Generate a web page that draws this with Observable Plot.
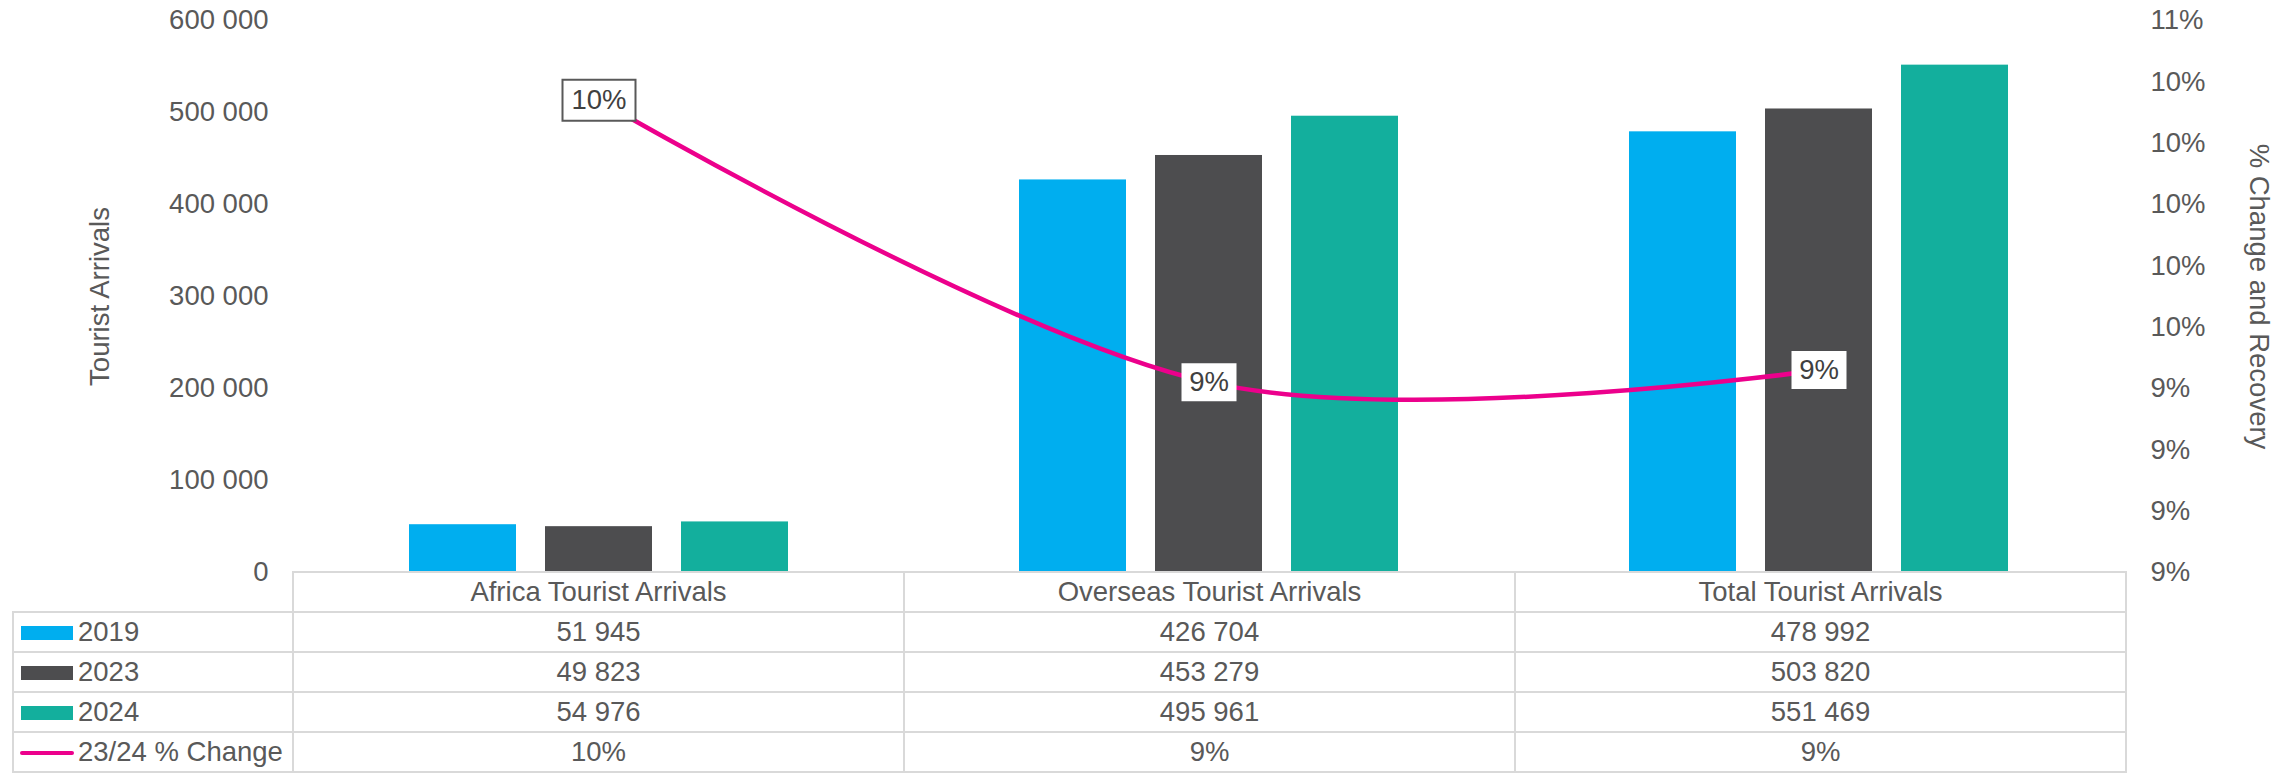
<!DOCTYPE html>
<html>
<head>
<meta charset="utf-8">
<script src="https://cdn.jsdelivr.net/npm/d3@7"></script>
<script src="https://cdn.jsdelivr.net/npm/@observablehq/plot@0.6"></script>
<style>
  html, body { margin: 0; padding: 0; background: #fff; }
  #wrap { position: relative; width: 2293px; height: 774px; overflow: hidden; background: #fff; }
  #chart { position: absolute; left: 0; top: 0; }
  #tbl { position: absolute; left: 12px; top: 571px; border-collapse: collapse; table-layout: fixed;
         width: 2113px; font-family: "Liberation Sans", Arial, sans-serif; font-size: 27.5px; color: #595959; }
  #tbl td { border: 2px solid #d9d9d9; height: 38px; padding: 0; text-align: center; vertical-align: middle; line-height: 1; white-space: nowrap; }
  #tbl td.blank { border-top: none; border-left: none; }
  #tbl td.leg { text-align: left; }
  .sw { display: inline-block; width: 52px; height: 14px; margin: 0 5px 0 7px; vertical-align: middle; position: relative; top: -1px; }
  .ln { display: inline-block; width: 54px; height: 4px; border-radius: 2px; margin: 0 4px 0 6px; vertical-align: middle; position: relative; top: -1px; }
</style>
</head>
<body>
<div id="wrap">
  <div id="chart"></div>
  <table id="tbl"></table>
</div>
<script>
// ---- data ----
const categories = ["Africa Tourist Arrivals", "Overseas Tourist Arrivals", "Total Tourist Arrivals"];
const years = ["2019", "2023", "2024"];
const arrivals2019 = [51945, 426704, 478992];
const arrivals2023 = [49823, 453279, 503820];
const arrivals2024 = [54976, 495961, 551469];
const changeName = "23/24 % Change";
const pctChange = [0.1034, 0.0942, 0.0946];
const pctLabels = ["10%", "9%", "9%"];
const leftTicks = [0, 100000, 200000, 300000, 400000, 500000, 600000];
const rightTicks = [0.088, 0.090, 0.092, 0.094, 0.096, 0.098, 0.100, 0.102, 0.104, 0.106];
const yearColors = ["#00AEEF", "#4D4D4F", "#13AF9D"];
const lineColor = "#EC008C";

const seriesValues = [arrivals2019, arrivals2023, arrivals2024];
const rows = [];
years.forEach((yr, i) => categories.forEach((c, j) => rows.push({year: yr, category: c, value: seriesValues[i][j]})));
const lineRows = categories.map((c, j) => ({category: c, pct: pctChange[j], label: pctLabels[j]}));

const fmt = d3.formatLocale({decimal: ".", thousands: " ", grouping: [3], currency: ["", ""]}).format(",");
const pctFmt = d3.format(".0%");

// secondary axis mapping onto the primary y scale
const yMax = 600000;
const pMin = rightTicks[0], pMax = rightTicks[rightTicks.length - 1];
const toY = p => (p - pMin) / (pMax - pMin) * yMax;
const fromY = v => pMin + v / yMax * (pMax - pMin);

const box = (w, h) => ({draw(ctx) { ctx.rect(-w / 2, -h / 2, w, h); }});
const offsets = [-136, 0, 136];
const font = "'Liberation Sans', Arial, sans-serif";

const chart = Plot.plot({
  width: 2293,
  height: 610,
  marginLeft: 292,
  marginRight: 169,
  marginTop: 20,
  marginBottom: 38,
  style: {fontFamily: font, fontSize: "27.5px", color: "#595959", background: "transparent", overflow: "visible"},
  x: {type: "band", domain: categories, paddingInner: 0.8246, paddingOuter: 0.4123, axis: null},
  y: {domain: [0, yMax], axis: null},
  marks: [
    ...years.map((yr, i) => Plot.barY(rows.filter(d => d.year === yr), {
      x: "category", y: "value", fill: yearColors[i], dx: offsets[i]
    })),
    Plot.line(lineRows, {x: "category", y: d => toY(d.pct), stroke: lineColor, strokeWidth: 4.5, curve: "cardinal"}),
    Plot.dot(lineRows.slice(0, 1), {x: "category", y: d => toY(d.pct), symbol: box(73, 41), fill: "white", stroke: "#595959", strokeWidth: 2}),
    Plot.dot(lineRows.slice(1), {x: "category", y: d => toY(d.pct), symbol: box(55, 38), fill: "white", stroke: "none"}),
    Plot.text(lineRows, {x: "category", y: d => toY(d.pct), text: "label", fill: "#404040", fontSize: 27.5}),
    Plot.axisY(leftTicks, {anchor: "left", tickSize: 0, tickPadding: 24, tickFormat: fmt, label: null}),
    Plot.axisY(rightTicks.map(toY), {anchor: "right", tickSize: 0, tickPadding: 26, tickFormat: v => pctFmt(fromY(v)), label: null}),
    Plot.text(["Tourist Arrivals"], {text: d => d, frameAnchor: "left", textAnchor: "middle", dx: -192, rotate: -90, fill: "#595959"}),
    Plot.text(["% Change and Recovery"], {text: d => d, frameAnchor: "right", textAnchor: "middle", dx: 134, rotate: 90, fill: "#595959"})
  ]
});
document.getElementById("chart").appendChild(chart);

// ---- data table ----
const tbl = document.getElementById("tbl");
let html = '<colgroup><col style="width:280px">' + categories.map(() => '<col style="width:611px">').join("") + '</colgroup>';
html += '<tr><td class="blank"></td>' + categories.map(c => `<td>${c}</td>`).join("") + '</tr>';
years.forEach((yr, i) => {
  html += `<tr><td class="leg"><span class="sw" style="background:${yearColors[i]}"></span>${yr}</td>` +
    seriesValues[i].map(v => `<td>${fmt(v)}</td>`).join("") + '</tr>';
});
html += `<tr><td class="leg"><span class="ln" style="background:${lineColor}"></span>${changeName}</td>` +
  pctLabels.map(l => `<td>${l}</td>`).join("") + '</tr>';
tbl.innerHTML = html;
</script>
</body>
</html>
